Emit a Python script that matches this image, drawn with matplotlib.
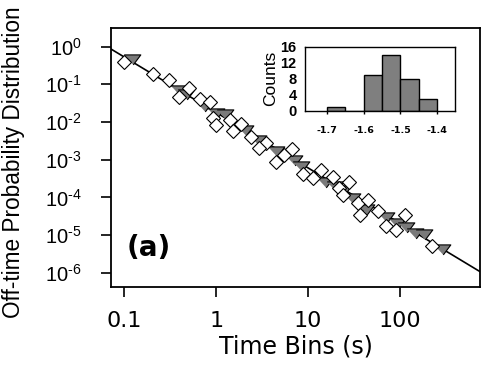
import numpy as np
import matplotlib
matplotlib.use("Agg")
import matplotlib.pyplot as plt

plt.rcParams['font.family'] = ['Liberation Sans', 'DejaVu Sans']
plt.rcParams['mathtext.default'] = 'regular'

# open diamonds (log10 x, log10 y)
dia_lx = [-1.007, -0.69, -0.51, -0.30, -0.41, -0.18, -0.07, -0.04, 0.0, 0.145,
          0.27, 0.18, 0.38, 0.54, 0.47, 0.74, 0.83, 0.65, 0.94, 1.05,
          1.14, 1.27, 1.34, 1.38, 1.45, 1.54, 1.65, 1.56, 1.76, 1.85,
          1.96, 2.05, 2.35]
dia_ly = [-0.40, -0.72, -0.90, -1.10, -1.34, -1.39, -1.48, -1.90, -2.08, -1.96,
          -2.06, -2.24, -2.39, -2.55, -2.70, -2.87, -2.71, -3.07, -3.38, -3.49,
          -3.27, -3.45, -3.74, -3.93, -3.58, -4.15, -4.08, -4.46, -4.35, -4.77,
          -4.86, -4.46, -5.28]

# gray triangles
tri_lx = [-0.92, -0.40, -0.33, -0.13, 0.0, 0.1, 0.31, 0.45, 0.65, 0.85,
          0.92, 1.18, 1.29, 1.38, 1.48, 1.56, 1.63, 1.85, 1.97, 2.07,
          2.16, 2.26, 2.46]
tri_ly = [-0.34, -1.15, -1.27, -1.59, -1.77, -1.80, -2.21, -2.47, -2.78, -3.02,
          -3.16, -3.58, -3.71, -3.80, -4.02, -4.29, -4.30, -4.51, -4.67, -4.79,
          -4.95, -4.98, -5.37]

# fitted power law
fit_slope = -1.47
fit_amp = 0.0178

# inset histogram of exponents
bin_edges = [-1.70, -1.65, -1.60, -1.55, -1.50, -1.45, -1.40]
counts = [1, 0, 9, 14, 8, 3]

fig = plt.figure(figsize=(4.82, 3.69), dpi=100)
ax = fig.add_axes([111/482, 1-287/369, (480-111)/482, (287-28)/369])

tri_marker = [(-1.0, 0.55), (1.0, 0.55), (0.1, -0.65)]

xl = np.logspace(np.log10(0.0716), np.log10(742), 50)
ax.plot(xl, fit_amp*xl**fit_slope, color='black', lw=1.2, zorder=1)
ax.plot(10**np.array(tri_lx), 10**np.array(tri_ly), ls='none', marker=tri_marker,
        ms=12, mfc='#7a7a7a', mec='black', mew=0.8, zorder=2)
ax.plot(10**np.array(dia_lx), 10**np.array(dia_ly), 'D', ms=7.5,
        mfc='white', mec='black', mew=0.8, zorder=3)

ax.set_xscale('log')
ax.set_yscale('log')
ax.set_xlim(0.0716, 742)
ax.set_ylim(4.2e-7, 3.1)
ax.set_xticks([0.1, 1, 10, 100])
ax.set_xticklabels(['0.1', '1', '10', '100'], fontsize=16, family='DejaVu Sans')
ax.set_yticks([10.0**k for k in range(0, -7, -1)])
ax.set_yticklabels(['$10^{%d}$' % k if k == 0 else '$10^{\u2010%d}$' % -k for k in range(0, -7, -1)],
                   fontsize=14.5)
ax.minorticks_off()
ax.tick_params(direction='out', length=7, width=1.2, top=False, right=False)
ax.tick_params(axis='y', pad=14)
ax.tick_params(axis='x', pad=10)
for s in ax.spines.values():
    s.set_linewidth(1.3)
ax.set_xlabel('Time Bins (s)', fontsize=17, labelpad=3, family='DejaVu Sans')
fig.text(0.027, 0.56, 'Off-time Probability Distribution', rotation=90,
         fontsize=16.3, ha='center', va='center',
         family=['Liberation Sans Narrow', 'Liberation Sans'])
fig.text(127/482, 1-248/369, '(a)', fontsize=20, family='DejaVu Sans',
         fontweight='bold', va='center')

ins = fig.add_axes([305/482, 1-111/369, (455-305)/482, (111-46.7)/369])
ins.bar(bin_edges[:-1], counts, width=0.05, align='edge', color='#7f7f7f',
        edgecolor='black', lw=1.0)
ins.set_xlim(-1.759, -1.352)
ins.set_ylim(0, 16)
ins.set_yticks([0, 4, 8, 12, 16])
ins.set_xticks([-1.7, -1.6, -1.5, -1.4])
ins.set_xticklabels(['-1.7', '-1.6', '-1.5', '-1.4'], fontsize=6.8,
                    fontweight='bold', family='DejaVu Sans')
ins.set_yticklabels(['0', '4', '8', '12', '16'], fontsize=10.5, fontweight='bold')
ins.tick_params(axis='x', direction='out', length=2.5, width=1, pad=8)
ins.tick_params(axis='y', length=0, pad=6)
for s in ins.spines.values():
    s.set_linewidth(1.0)
ins.set_ylabel('Counts', fontsize=12.5, labelpad=2,
               family=['Liberation Sans Narrow', 'Liberation Sans'])

fig.savefig('out.png', dpi=100)
